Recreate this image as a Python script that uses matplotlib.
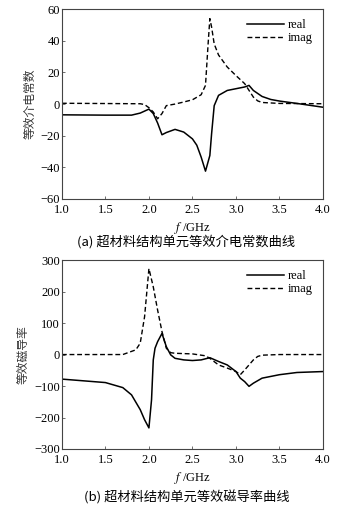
import matplotlib
matplotlib.use("Agg")
import matplotlib.pyplot as plt

plt.rcParams["mathtext.fontset"] = "stix"

# Panel (a): effective permittivity
eps_f_real = [1.0, 1.5, 1.8, 1.9, 2.0, 2.05, 2.1, 2.15, 2.2, 2.3, 2.4, 2.5, 2.55, 2.6, 2.65, 2.7, 2.72, 2.75, 2.8, 2.9, 3.0, 3.1, 3.15, 3.2, 3.3, 3.4, 3.5, 3.7, 4.0]
eps_real = [-6.8, -7.0, -7.0, -5.7, -3.2, -6.0, -12.0, -19.4, -18.0, -16.0, -17.7, -22.0, -26.0, -33.5, -42.4, -32.5, -18.8, -1.0, 5.5, 8.6, 9.7, 10.8, 11.8, 8.6, 4.8, 2.9, 1.9, 0.4, -2.0]
eps_f_imag = [1.0, 1.9, 1.95, 2.0, 2.05, 2.1, 2.15, 2.2, 2.3, 2.4, 2.5, 2.6, 2.65, 2.68, 2.7, 2.72, 2.75, 2.8, 2.9, 3.0, 3.1, 3.2, 3.25, 3.3, 3.5, 4.0]
eps_imag = [0.5, 0.2, -0.3, -2.3, -5.0, -9.3, -6.0, -1.0, 0.0, 1.3, 2.7, 5.9, 11.8, 38.0, 54.0, 48.7, 38.0, 31.0, 23.4, 18.0, 12.9, 4.4, 2.0, 1.0, 0.4, 0.2]

# Panel (b): effective permeability
mu_f_real = [1.0, 1.5, 1.7, 1.8, 1.9, 1.95, 2.0, 2.03, 2.05, 2.07, 2.1, 2.15, 2.2, 2.25, 2.3, 2.4, 2.5, 2.6, 2.7, 2.8, 2.9, 3.0, 3.05, 3.1, 3.15, 3.2, 3.3, 3.5, 3.7, 4.0]
mu_real = [-78, -89, -105, -128, -175, -207, -233, -144, -17, 20, 41, 67, 25, -1, -12, -17, -19, -17, -10, -22, -33, -54, -75, -86, -101, -91, -75, -64, -57, -54]
mu_f_imag = [1.0, 1.7, 1.85, 1.9, 1.95, 2.0, 2.05, 2.1, 2.15, 2.2, 2.25, 2.3, 2.5, 2.65, 2.7, 2.8, 2.9, 3.0, 3.05, 3.1, 3.2, 3.25, 3.3, 3.5, 4.0]
mu_imag = [0, 0, 15, 36, 120, 273, 215, 141, 73, 20, 6, 4, 2, -4, -12, -33, -43, -54, -64, -49, -17, -6, -2, 0, 0]

x_ticks = [1.0, 1.5, 2.0, 2.5, 3.0, 3.5, 4.0]
eps_ticks = [-60, -40, -20, 0, 20, 40, 60]
mu_ticks = [-300, -200, -100, 0, 100, 200, 300]

serif = ["Liberation Serif", "DejaVu Serif"]
cjk = ["Noto Sans CJK SC", "DejaVu Sans"]

fig = plt.figure(figsize=(3.4, 5.07), dpi=100)
ax1 = fig.add_axes([0.182, 0.6075, 0.768, 0.3745])
ax2 = fig.add_axes([0.182, 0.1144, 0.768, 0.3726])

def style(ax, yticks, ylabel):
    ax.set_xlim(1.0, 4.0)
    ax.set_xticks(x_ticks)
    ax.set_xticklabels([f"{t:.1f}" for t in x_ticks], family=serif, fontsize=9)
    ax.set_ylim(yticks[0], yticks[-1])
    ax.set_yticks(yticks)
    ax.set_yticklabels([str(t).replace("-", "\u2212") for t in yticks], family=serif, fontsize=9)
    ax.tick_params(direction="in", length=2.5, width=0.6, color="#555555")
    ax.tick_params(axis="x", pad=3.5)
    ax.tick_params(axis="y", pad=1.5)
    for s in ax.spines.values():
        s.set_linewidth(0.8)
        s.set_color("#444444")
    ax.set_ylabel(ylabel, family=cjk, fontsize=8.5, color="#333333", labelpad=3)
    ax.set_xlabel(r"$f$ /GHz", family=serif, fontsize=9, labelpad=3)
    ax.legend(loc="upper right", frameon=False, prop={"family": serif, "size": 9},
              handlelength=3.0, handletextpad=0.3, labelspacing=0.1, borderaxespad=0.4)

ax1.plot(eps_f_real, eps_real, color="black", lw=1.1, label="real")
ax1.plot(eps_f_imag, eps_imag, color="black", lw=1.0, ls=(0, (3.5, 2)), label="imag")
style(ax1, eps_ticks, "等效介电常数")

ax2.plot(mu_f_real, mu_real, color="black", lw=1.1, label="real")
ax2.plot(mu_f_imag, mu_imag, color="black", lw=1.0, ls=(0, (3.5, 2)), label="imag")
style(ax2, mu_ticks, "等效磁导率")

fig.text(0.548, 1 - 242 / 507, "(a) 超材料结构单元等效介电常数曲线", family=cjk, fontsize=9.5,
         ha="center", va="center")
fig.text(0.548, 1 - 497 / 507, "(b) 超材料结构单元等效磁导率曲线", family=cjk, fontsize=9.5,
         ha="center", va="center")

fig.savefig("out.png", dpi=100)
